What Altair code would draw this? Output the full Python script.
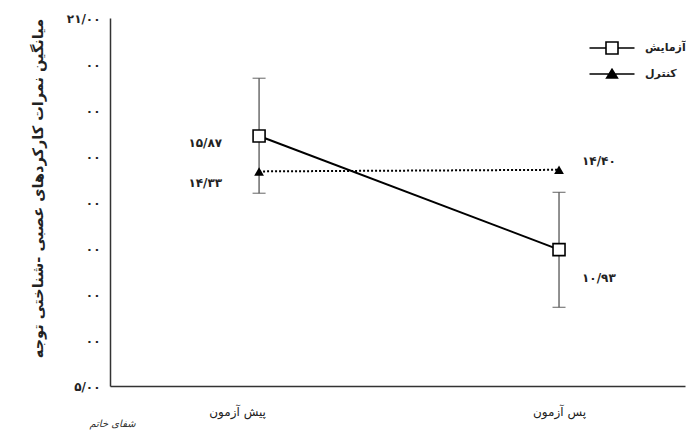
import altair as alt
import pandas as pd

# ---- data ----
phases = ["پیش آزمون", "پس آزمون"]
groups = ["آزمایش", "کنترل"]
exp_means = [15.87, 10.93]
ctrl_means = [14.33, 14.40]
exp_upper = [18.38, 13.42]
exp_lower = [13.38, 8.42]
exp_labels = ["۱۵/۸۷", "۱۰/۹۳"]
ctrl_labels = ["۱۴/۳۳", "۱۴/۴۰"]
y_ticks = [5, 7, 9, 11, 13, 15, 17, 19, 21]
y_tick_labels = ["۵/۰۰", "۰۰", "۰۰", "۰۰", "۰۰", "۰۰", "۰۰", "۰۰", "۲۱/۰۰"]
y_title = "میانگین نمرات کارکردهای عصبی -شناختی توجه"
watermark = "شفای خاتم"

FONT = "DejaVu Sans"

rows = []
for i, ph in enumerate(phases):
    rows.append(dict(idx=i, phase=ph, group=groups[0], mean=exp_means[i],
                     upper=exp_upper[i], lower=exp_lower[i], label=exp_labels[i]))
    rows.append(dict(idx=i, phase=ph, group=groups[1], mean=ctrl_means[i],
                     upper=None, lower=None, label=ctrl_labels[i]))
df = pd.DataFrame(rows)

x_label_expr = " : ".join(
    [f"datum.value == {i} ? '{p}'" for i, p in enumerate(phases)]) + " : ''"
y_label_expr = " : ".join(
    [f"datum.value == {v} ? '{l}'" for v, l in zip(y_ticks, y_tick_labels)]) + " : ''"

x_enc = alt.X("idx:Q",
              scale=alt.Scale(domain=[-0.497, 1.42], nice=False, zero=False),
              axis=alt.Axis(values=[0, 1], labelExpr=x_label_expr, ticks=False, grid=False,
                            labelFont=FONT, labelFontSize=12, labelColor="#222",
                            labelPadding=20,
                            labelOffset={"condition": {"test": "datum.value == 0", "value": -22},
                                         "value": 0},
                            domainColor="#333", domainWidth=1.5,
                            title=watermark, titleFont=FONT, titleFontSize=10,
                            titleFontStyle="italic", titleFontWeight="normal",
                            titleColor="#333", titleX=2, titleY=40,
                            titleBaseline="alphabetic", titleAlign="center"))
y_enc = alt.Y("mean:Q",
              scale=alt.Scale(domain=[5, 21], nice=False, zero=False),
              axis=alt.Axis(values=y_ticks, labelExpr=y_label_expr, ticks=False, grid=False,
                            labelFont=FONT, labelFontSize=12, labelFontWeight="bold",
                            labelColor="#222", labelPadding=10,
                            domainColor="#333", domainWidth=1.5,
                            title=y_title, titleFont=FONT, titleFontSize=14.5,
                            titleFontWeight="bold", titleColor="#222",
                            titleX=-72, titleY=170, titleAngle=-90,
                            titleBaseline="middle", titleAlign="center"))

base = alt.Chart(df)
exp_base = base.transform_filter(alt.datum.group == groups[0])
ctrl_base = base.transform_filter(alt.datum.group == groups[1])

err_rule = exp_base.mark_rule(color="#555", strokeWidth=1.3).encode(
    x=x_enc, y=alt.Y("lower:Q"), y2="upper:Q")
caps = exp_base.transform_fold(["upper", "lower"], as_=["which", "val"]).mark_tick(
    orient="horizontal", size=13, thickness=1.3, color="#555").encode(
    x="idx:Q", y="val:Q")

exp_line = exp_base.mark_line(color="black", strokeWidth=2).encode(x=x_enc, y=y_enc)
ctrl_line = ctrl_base.mark_line(color="black", strokeWidth=2, strokeDash=[2, 2]).encode(
    x="idx:Q", y="mean:Q")

exp_pts = exp_base.mark_square(size=144, color="white", stroke="black",
                               strokeWidth=1.6, opacity=1).encode(x="idx:Q", y="mean:Q")
ctrl_pts = ctrl_base.mark_point(shape="triangle-up", filled=True, color="black",
                                size=95, opacity=1).encode(x="idx:Q", y="mean:Q")

def label_layer(group, idx, align, dx, dy):
    return base.transform_filter(
        (alt.datum.group == group) & (alt.datum.idx == idx)).mark_text(
        align=align, baseline="middle", dx=dx, dy=dy, font=FONT, fontSize=12,
        fontWeight="bold", color="#222").encode(x="idx:Q", y="mean:Q", text="label:N")

labels = [
    label_layer(groups[0], 0, "right", -37, 7),
    label_layer(groups[1], 0, "right", -37, 12),
    label_layer(groups[1], 1, "left", 23, -9),
    label_layer(groups[0], 1, "left", 23, 28),
]

exp_path = "M-1.5,0H-0.4M0.4,0H1.5M-0.4,-0.4H0.4V0.4H-0.4Z"
ctrl_path = "M-1.5,0H1.5M-0.36,0.27L0,-0.32L0.36,0.27Z"

def leg():
    return alt.Legend(title=None, orient="none", legendX=486, legendY=14,
                      symbolSize=900, symbolStrokeColor="black",
                      symbolStrokeWidth=1.6, labelOffset=17,
                      labelFont=FONT, labelFontSize=11,
                      labelFontWeight="bold", labelColor="#222",
                      rowPadding=0, padding=0)

legend_layer = base.transform_filter("false").mark_point(
    filled=False, strokeWidth=1.6, opacity=1).encode(
    x="idx:Q", y="mean:Q",
    shape=alt.Shape("group:N", scale=alt.Scale(domain=groups, range=[exp_path, ctrl_path]),
                    legend=leg()),
    fill=alt.Fill("group:N", scale=alt.Scale(domain=groups, range=["white", "black"]),
                  legend=leg()),
    stroke=alt.Stroke("group:N", scale=alt.Scale(domain=groups, range=["black", "black"]),
                      legend=leg()),
)

chart = alt.layer(err_rule, caps, exp_line, ctrl_line, exp_pts, ctrl_pts,
                  *labels, legend_layer).properties(
    width=575, height=368, autosize="none",
    padding={"left": 102, "top": 10, "right": 1, "bottom": 45},
    background="white",
).configure_view(stroke=None)

chart.save("out.html", embed_options={"renderer": "svg", "actions": False})
